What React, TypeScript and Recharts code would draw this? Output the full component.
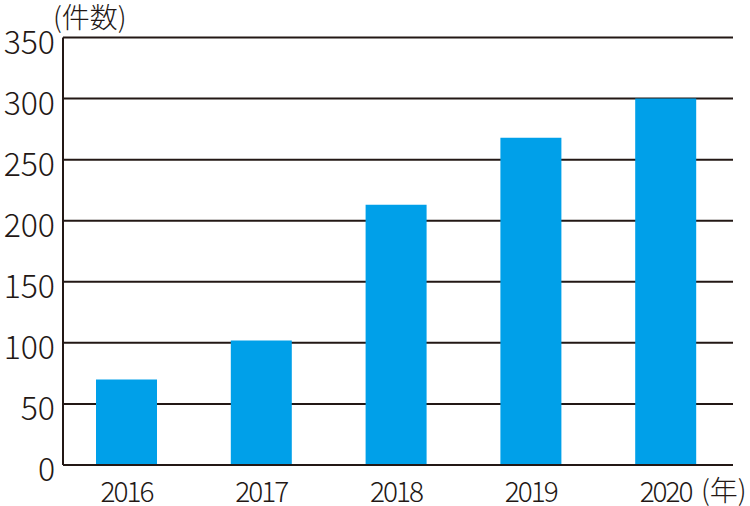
import React from 'react';
import { BarChart, Bar, XAxis, YAxis, CartesianGrid } from 'recharts';

const years = ['2016', '2017', '2018', '2019', '2020'];
const counts = [70, 102, 213, 268, 300];
const yTicks = [0, 50, 100, 150, 200, 250, 300, 350];

const data = years.map((y, i) => ({ year: y, count: counts[i] }));

const FONT = '"Noto Sans CJK JP", "Noto Sans", sans-serif';
const INK = '#231815';

const YTick = (props: any) => {
  const { x, y, payload } = props;
  return (
    <text x={x - 8} y={y} dy={16} textAnchor="end" fontSize={32} fontWeight={300} fill={INK} fontFamily={FONT}>
      {payload.value}
    </text>
  );
};

const XTick = (props: any) => {
  const { x, y, payload } = props;
  return (
    <text x={x} y={y} dy={37} textAnchor="middle" fontSize={28} fontWeight={300} fill={INK} fontFamily={FONT}
      style={{ letterSpacing: '-2px' }}>
      {payload.value}
    </text>
  );
};

export default function App() {
  return (
    <div style={{ position: 'absolute', left: 0, top: 0, width: 750, height: 506, background: '#fff' }}>
      <BarChart
        width={750}
        height={506}
        data={data}
        margin={{ top: 37.5, right: 17, bottom: 0, left: 0 }}
        barSize={61}
      >
        <CartesianGrid vertical={false} stroke={INK} strokeWidth={2} />
        <XAxis
          dataKey="year"
          height={41}
          padding={{ left: -4, right: 0 }}
          axisLine={{ stroke: INK, strokeWidth: 2 }}
          tickLine={false}
          tickSize={0}
          tickMargin={0}
          tick={<XTick />}
          interval={0}
        />
        <YAxis
          width={63}
          domain={[0, 350]}
          ticks={yTicks}
          interval={0}
          axisLine={{ stroke: INK, strokeWidth: 2 }}
          tickLine={false}
          tickSize={0}
          tickMargin={0}
          tick={<YTick />}
        />
        <Bar dataKey="count" fill="#00A0E9" isAnimationActive={false} />
      </BarChart>
      <div style={{ position: 'absolute', left: 53, top: -4, fontFamily: FONT, fontSize: 28, fontWeight: 300, color: INK, whiteSpace: 'nowrap', lineHeight: '40px' }}>
        (件数)
      </div>
      <div style={{ position: 'absolute', left: 701, top: 469, fontFamily: FONT, fontSize: 28, fontWeight: 300, color: INK, whiteSpace: 'nowrap', lineHeight: '40px' }}>
        (年)
      </div>
    </div>
  );
}
